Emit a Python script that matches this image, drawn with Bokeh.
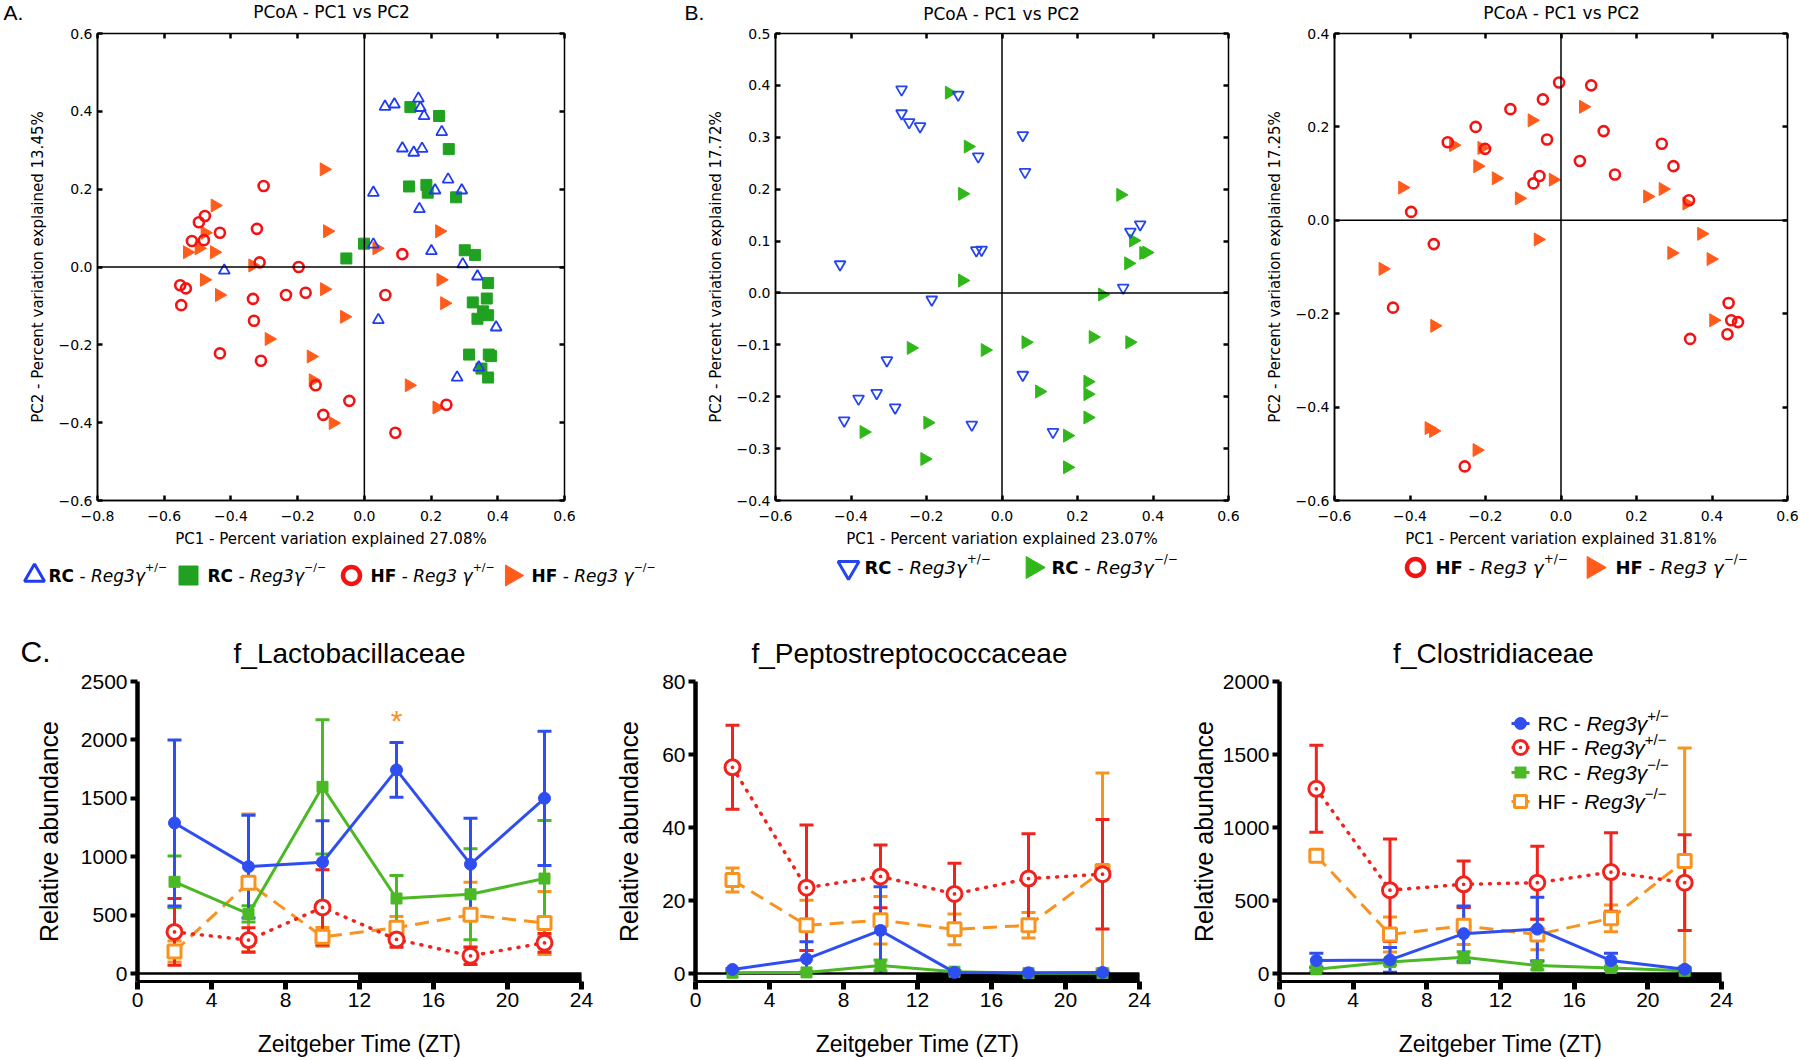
import math
from bokeh.plotting import figure
from bokeh.models import (Range1d, FixedTicker, CustomJSTickFormatter, LinearAxis, Span,
                          ColumnDataSource, Whisker, TeeHead)
from bokeh.layouts import row, column
from bokeh.embed import file_html
from bokeh.resources import INLINE
from bokeh.core.properties import value

# ------------------------------------------------------------------ data: panel A
A_rc_het_x = [0.062, 0.090, 0.162, 0.168, 0.179, 0.232, 0.114, 0.148, 0.173, 0.251, 0.292, 0.212, 0.027,
              0.165, 0.027, 0.201, 0.295, 0.339, 0.395, 0.042, 0.343, 0.278, -0.420]
A_rc_het_y = [0.412, 0.418, 0.433, 0.409, 0.388, 0.347, 0.305, 0.294, 0.304, 0.225, 0.197, 0.197, 0.191,
              0.149, 0.058, 0.041, 0.007, -0.024, -0.155, -0.136, -0.258, -0.284, -0.009]
A_rc_ko_x = [0.138, 0.224, 0.253, 0.134, 0.186, 0.190, 0.275, -0.001, -0.054, 0.301, 0.332, 0.371, 0.367,
             0.325, 0.356, 0.371, 0.339, 0.314, 0.373, 0.380, 0.371, 0.351]
A_rc_ko_y = [0.411, 0.388, 0.303, 0.207, 0.211, 0.191, 0.179, 0.060, 0.022, 0.043, 0.031, -0.041, -0.081,
             -0.091, -0.114, -0.124, -0.133, -0.225, -0.225, -0.229, -0.284, -0.261]
A_hf_het_x = [-0.302, -0.478, -0.496, -0.433, -0.517, -0.481, -0.322, -0.314, -0.197, 0.114, -0.552, -0.535,
              -0.549, -0.334, -0.235, -0.176, 0.063, -0.331, -0.433, -0.310, -0.146, -0.123, -0.045, 0.093, 0.246]
A_hf_het_y = [0.208, 0.131, 0.115, 0.088, 0.067, 0.069, 0.098, 0.012, 0.000, 0.033, -0.047, -0.055,
              -0.098, -0.082, -0.072, -0.066, -0.072, -0.138, -0.222, -0.241, -0.304, -0.380, -0.344, -0.426, -0.354]
A_hf_ko_x = [-0.121, -0.448, -0.478, -0.531, -0.496, -0.450, -0.111, -0.335, 0.037, 0.225, -0.480, -0.435,
             -0.120, -0.060, -0.286, -0.160, -0.154, 0.134, -0.094, 0.217, 0.229, 0.240]
A_hf_ko_y = [0.251, 0.158, 0.088, 0.038, 0.048, 0.038, 0.092, 0.004, 0.048, 0.092, -0.033, -0.072,
             -0.057, -0.128, -0.185, -0.230, -0.291, -0.304, -0.401, -0.361, -0.033, -0.093]
A_xticks = [-0.8, -0.6, -0.4, -0.2, 0.0, 0.2, 0.4, 0.6]
A_yticks = [-0.6, -0.4, -0.2, 0.0, 0.2, 0.4, 0.6]

# ------------------------------------------------------------------ data: panel B (RC)
B1_rc_het_x = [-0.266, -0.116, -0.266, -0.246, -0.217, 0.055, -0.063, 0.061, -0.429, -0.068, -0.054, -0.186,
               0.366, 0.340, 0.321, -0.305, -0.332, -0.380, -0.283, -0.418, -0.080, 0.055, 0.135]
B1_rc_het_y = [0.392, 0.382, 0.346, 0.329, 0.321, 0.304, 0.263, 0.233, 0.055, 0.082, 0.083, -0.013,
               0.132, 0.118, 0.010, -0.130, -0.193, -0.204, -0.221, -0.246, -0.254, -0.158, -0.268]
B1_rc_ko_x = [-0.140, -0.090, -0.105, -0.105, 0.314, 0.348, 0.383, 0.375, 0.335, 0.266, 0.241, 0.338,
              0.063, -0.241, -0.045, 0.227, 0.227, 0.227, 0.099, 0.173, 0.173, -0.197, -0.205, -0.366]
B1_rc_ko_y = [0.386, 0.282, 0.191, 0.024, 0.189, 0.101, 0.078, 0.077, 0.057, -0.003, -0.085, -0.095,
              -0.095, -0.106, -0.110, -0.171, -0.195, -0.240, -0.190, -0.275, -0.336, -0.250, -0.320, -0.268]
B1_xticks = [-0.6, -0.4, -0.2, 0.0, 0.2, 0.4, 0.6]
B1_yticks = [-0.4, -0.3, -0.2, -0.1, 0.0, 0.1, 0.2, 0.3, 0.4, 0.5]

# ------------------------------------------------------------------ data: panel B (HF)
B2_hf_het_x = [-0.005, 0.080, -0.048, -0.134, -0.226, -0.300, -0.201, -0.037, 0.113, 0.050, -0.057, -0.073,
               0.143, 0.267, 0.298, 0.339, -0.397, -0.337, -0.445, 0.444, 0.451, 0.469, 0.441, 0.342, -0.255]
B2_hf_het_y = [0.295, 0.289, 0.259, 0.238, 0.200, 0.167, 0.153, 0.173, 0.191, 0.127, 0.095, 0.079,
               0.098, 0.164, 0.116, 0.043, 0.018, -0.051, -0.187, -0.177, -0.214, -0.218, -0.244, -0.254, -0.527]
B2_hf_ko_x = [0.059, -0.077, -0.285, -0.210, -0.221, -0.172, -0.111, -0.021, -0.420, 0.229, 0.270, 0.333,
              0.372, 0.293, 0.397, -0.061, -0.472, 0.404, -0.335, -0.350, -0.338, -0.223]
B2_hf_ko_y = [0.243, 0.214, 0.161, 0.155, 0.116, 0.090, 0.047, 0.087, 0.070, 0.051, 0.067, 0.036,
              -0.029, -0.070, -0.083, -0.041, -0.104, -0.214, -0.226, -0.445, -0.451, -0.492]
B2_xticks = [-0.6, -0.4, -0.2, 0.0, 0.2, 0.4, 0.6]
B2_yticks = [-0.6, -0.4, -0.2, 0.0, 0.2, 0.4]

# ------------------------------------------------------------------ data: panel C
zt = [2, 6, 10, 14, 18, 22]
zt_ticks = [0, 4, 8, 12, 16, 20, 24]
light_start = [0, 12]
light_end = [12, 24]
light_fill = ["white", "black"]

lac_rc_het = [1289, 915, 953, 1743, 936, 1500]
lac_rc_het_sem = [711, 440, 355, 235, 393, 575]
lac_hf_het = [356, 286, 566, 292, 151, 263]
lac_hf_het_sem = [286, 105, 322, 68, 75, 80]
lac_rc_ko = [785, 510, 1598, 642, 678, 813]
lac_rc_ko_sem = [221, 70, 575, 197, 390, 498]
lac_hf_ko = [188, 776, 314, 392, 502, 432]
lac_hf_ko_sem = [90, 589, 80, 96, 280, 270]
lac_yticks = [0, 500, 1000, 1500, 2000, 2500]
lac_star_zt = [14]

pep_rc_het = [1.1, 4.0, 11.8, 0.3, 0.2, 0.3]
pep_rc_het_sem = [0.3, 4.7, 12.0, 0.2, 0.1, 0.2]
pep_hf_het = [56.5, 23.5, 26.6, 21.8, 26.0, 27.2]
pep_hf_het_sem = [11.5, 17.2, 8.6, 8.4, 12.3, 15.0]
pep_rc_ko = [0.2, 0.3, 2.2, 0.5, 0.1, 0.1]
pep_rc_ko_sem = [0.1, 0.2, 1.5, 0.3, 0.1, 0.1]
pep_hf_ko = [25.6, 13.2, 14.6, 12.1, 13.2, 28.1]
pep_hf_ko_sem = [3.3, 6.9, 6.5, 4.2, 3.5, 26.8]
pep_yticks = [0, 20, 40, 60, 80]

clo_rc_het = [89, 93, 273, 304, 89, 29]
clo_rc_het_sem = [49, 85, 189, 218, 49, 10]
clo_hf_het = [1265, 571, 611, 622, 695, 622]
clo_hf_het_sem = [298, 351, 159, 250, 269, 328]
clo_rc_ko = [29, 78, 111, 55, 38, 18]
clo_rc_ko_sem = [15, 20, 38, 30, 12, 8]
clo_hf_ko = [807, 267, 327, 267, 378, 771]
clo_hf_ko_sem = [30, 120, 129, 105, 92, 773]
clo_yticks = [0, 500, 1000, 1500, 2000]

# ------------------------------------------------------------------ styles
DVF = "DejaVu Sans"
ARF = "Liberation Sans"
A_BLUE, A_GREEN, A_RED, A_ORANGE = "#1f3cf2", "#21a121", "#f21414", "#ff5c1c"
B_BLUE, B_GREEN = "#2545ee", "#30b81a"
C_BLUE, C_RED, C_GREEN, C_ORANGE = "#2f4ef0", "#f0231d", "#4bb925", "#f7931e"

DV = {'R': .695, 'C': .698, 'H': .752, 'F': .575, ' ': .318, '-': .361, 'e': .615, 'g': .635,
      '3': .636, 'γ': .592, '+': .838, '/': .337, '−': .838}
DVB = {'R': .770, 'C': .734, 'H': .837, 'F': .683, ' ': .348, '-': .415}
AR = {'R': .722, 'C': .722, 'H': .722, 'F': .611, ' ': .278, '-': .333, 'e': .556, 'g': .556,
      '3': .556, 'γ': .5, '+': .584, '/': .278, '−': .584}


def tw(s, size, table):
    return sum(table.get(c, .6) for c in s) * size


def rich(p, x, y, parts, font, x_off=0, y_off=0):
    """Place text pieces one after another; y is the vertical middle of the text."""
    dx = 0.0
    for text, style, size, rise, table in parts:
        stripped = text.lstrip()
        lead = tw(text[:len(text) - len(stripped)], size, table)
        p.text(x=[x], y=[y], text=[stripped.rstrip()], x_offset=x_off + dx + lead, y_offset=y_off - rise,
               text_font=value(font), text_font_size=f"{size}px", text_font_style=style,
               text_color="black", text_baseline="middle", text_align="left")
        dx += tw(text, size, table)


def band_fig(width, height):
    p = figure(width=width, height=height, x_range=Range1d(0, width), y_range=Range1d(0, height),
               output_backend="svg", toolbar_location=None, x_axis_type=None, y_axis_type=None,
               min_border=0, title=None)
    p.grid.visible = False
    p.outline_line_color = None
    return p


def band_text(p, x, y, text, font, size, align="left", style="normal", color="black"):
    p.text(x=[x], y=[y], text=[text], text_font=value(font), text_font_size=f"{size}px",
           text_font_style=style, text_color=color, text_align=align, text_baseline="middle")


FMT_JS = 'const v = Math.abs(tick) < 1e-9 ? 0 : tick; return v.toFixed(1).replace("-", "\\u2212");'


def pcoa_fig(width, height, bl, br, bt, bb, xr, yr, xticks, yticks, xlabel, ylabel):
    p = figure(width=width, height=height, x_range=Range1d(*xr), y_range=Range1d(*yr),
               output_backend="svg", toolbar_location=None, title=None,
               min_border_left=bl, min_border_right=br, min_border_top=bt, min_border_bottom=bb)
    p.grid.visible = False
    p.outline_line_color = "black"
    p.outline_line_width = 1.5
    p.xaxis.ticker = FixedTicker(ticks=xticks)
    p.yaxis.ticker = FixedTicker(ticks=yticks)
    p.xaxis.axis_label = xlabel
    p.yaxis.axis_label = ylabel
    for ax in list(p.xaxis) + list(p.yaxis):
        ax.formatter = CustomJSTickFormatter(code=FMT_JS)
        ax.major_tick_in = 5
        ax.major_tick_out = 0
        ax.major_tick_line_width = 2.5
        ax.minor_tick_line_color = None
        ax.axis_line_width = 1.5
        ax.major_label_text_font = DVF
        ax.major_label_text_font_size = "14px"
        ax.major_label_text_color = "black"
        ax.axis_label_text_font = DVF
        ax.axis_label_text_font_size = "15px"
        ax.axis_label_text_font_style = "normal"
        ax.axis_label_text_color = "black"
    p.xaxis.major_label_standoff = 10
    p.xaxis.axis_label_standoff = 6
    p.yaxis.major_label_standoff = 5
    p.yaxis.axis_label_standoff = 9
    for side, ticks in (("above", xticks), ("right", yticks)):
        ax = LinearAxis(ticker=FixedTicker(ticks=ticks), major_label_text_font_size="0px",
                        major_label_text_color=None, major_label_standoff=0, major_tick_in=5,
                        major_tick_out=0, major_tick_line_width=2.5, minor_tick_line_color=None,
                        axis_line_color=None)
        p.add_layout(ax, side)
    p.add_layout(Span(location=0, dimension="height", line_color="black", line_width=1.5))
    p.add_layout(Span(location=0, dimension="width", line_color="black", line_width=1.5))
    return p


def pcoa_label_parts(group, sup, size, gap=False):
    g = "Reg3 γ" if gap else "Reg3γ"
    return [(group, "bold", size, 0, DVB), (" - ", "normal", size, 0, DV),
            (g, "italic", size, 0, DV), (sup, "normal", round(size * 0.65), size * 0.45, DV)]


# ------------------------------------------------------------------ top band: letters + titles
TOP_H = 24
topband = band_fig(1800, TOP_H)
band_text(topband, 3, TOP_H - 12, "A.", ARF, 21)
band_text(topband, 684, TOP_H - 12, "B.", ARF, 21)
band_text(topband, 331, TOP_H - 11, "PCoA - PC1 vs PC2", DVF, 17, align="center")
band_text(topband, 1001, TOP_H - 13, "PCoA - PC1 vs PC2", DVF, 17, align="center")
band_text(topband, 1561, TOP_H - 12, "PCoA - PC1 vs PC2", DVF, 17, align="center")

# ------------------------------------------------------------------ top row (frames aligned by the row)
ROW1_H, ROW1_BT, ROW1_BB = 526, 9, 50

figA = pcoa_fig(650, ROW1_H, 97, 86, ROW1_BT, ROW1_BB, (-0.8, 0.6), (-0.6, 0.6), A_xticks, A_yticks,
                "PC1 - Percent variation explained 27.08%", "PC2 - Percent variation explained 13.45%")
figA.scatter(A_rc_ko_x, A_rc_ko_y, marker="square", size=11, fill_color=A_GREEN, line_color=A_GREEN)
figA.scatter(A_hf_ko_x, A_hf_ko_y, marker="triangle", angle=-math.pi / 2, size=13,
             fill_color=A_ORANGE, line_color=A_ORANGE)
figA.scatter(A_hf_het_x, A_hf_het_y, marker="circle", size=10, fill_color=None, line_color=A_RED, line_width=2.6)
figA.scatter(A_rc_het_x, A_rc_het_y, marker="triangle", size=11, fill_color=None, line_color=A_BLUE,
             line_width=1.8)

figB1 = pcoa_fig(612, ROW1_H, 125, 34, ROW1_BT, ROW1_BB, (-0.6, 0.6), (-0.4, 0.5), B1_xticks, B1_yticks,
                 "PC1 - Percent variation explained 23.07%", "PC2 - Percent variation explained 17.72%")
figB1.scatter(B1_rc_ko_x, B1_rc_ko_y, marker="triangle", angle=-math.pi / 2, size=13,
              fill_color=B_GREEN, line_color=B_GREEN)
figB1.scatter(B1_rc_het_x, B1_rc_het_y, marker="inverted_triangle", size=11, fill_color=None,
              line_color=B_BLUE, line_width=1.8)

figB2 = pcoa_fig(538, ROW1_H, 72, 13, ROW1_BT, ROW1_BB, (-0.6, 0.6), (-0.6, 0.4), B2_xticks, B2_yticks,
                 "PC1 - Percent variation explained 31.81%", "PC2 - Percent variation explained 17.25%")
figB2.scatter(B2_hf_ko_x, B2_hf_ko_y, marker="triangle", angle=-math.pi / 2, size=13,
              fill_color=A_ORANGE, line_color=A_ORANGE)
figB2.scatter(B2_hf_het_x, B2_hf_het_y, marker="circle", size=10, fill_color=None, line_color=A_RED,
              line_width=2.6)

# ------------------------------------------------------------------ legend band for A and B
LEG_H = 50
legband = band_fig(1800, LEG_H)
LA_Y, LB_Y = LEG_H - 25, LEG_H - 17
legband.scatter([34], [LA_Y], marker="triangle", size=20, fill_color=None, line_color=A_BLUE, line_width=3)
legband.scatter([188], [LA_Y], marker="square", size=19, fill_color=A_GREEN, line_color=A_GREEN)
legband.scatter([351], [LA_Y], marker="circle", size=17, fill_color=None, line_color=A_RED, line_width=4.5)
legband.scatter([511], [LA_Y], marker="triangle", angle=-math.pi / 2, size=21, fill_color=A_ORANGE,
                line_color=A_ORANGE)
rich(legband, 48, LA_Y, pcoa_label_parts("RC", "+/−", 17), DVF)
rich(legband, 207, LA_Y, pcoa_label_parts("RC", "−/−", 17), DVF)
rich(legband, 370, LA_Y, pcoa_label_parts("HF", "+/−", 17, gap=True), DVF)
rich(legband, 531, LA_Y, pcoa_label_parts("HF", "−/−", 17, gap=True), DVF)

legband.scatter([848], [LB_Y], marker="inverted_triangle", size=21, fill_color=None, line_color=B_BLUE,
                line_width=3)
legband.scatter([1032], [LB_Y], marker="triangle", angle=-math.pi / 2, size=22, fill_color=B_GREEN,
                line_color=B_GREEN)
rich(legband, 864, LB_Y, pcoa_label_parts("RC", "+/−", 18), DVF)
rich(legband, 1051, LB_Y, pcoa_label_parts("RC", "−/−", 18), DVF)

legband.scatter([1415], [LB_Y], marker="circle", size=17, fill_color=None, line_color=A_RED, line_width=4.5)
legband.scatter([1593], [LB_Y], marker="triangle", angle=-math.pi / 2, size=22, fill_color=A_ORANGE,
                line_color=A_ORANGE)
rich(legband, 1435, LB_Y, pcoa_label_parts("HF", "+/−", 18, gap=True), DVF)
rich(legband, 1615, LB_Y, pcoa_label_parts("HF", "−/−", 18, gap=True), DVF)

# ------------------------------------------------------------------ band above panel C
CB_H = 69
cband = band_fig(1800, CB_H)
band_text(cband, 20, CB_H - 51, "C.", ARF, 30)
band_text(cband, 349, CB_H - 53, "f_Lactobacillaceae", ARF, 28, align="center")
band_text(cband, 909, CB_H - 53, "f_Peptostreptococcaceae", ARF, 28, align="center")
band_text(cband, 1493, CB_H - 53, "f_Clostridiaceae", ARF, 28, align="center")

# ------------------------------------------------------------------ Panel C
C_H, C_BT, BAR_PX, C_FRAME_H = 391, 12, 8, 300


def abund_fig(width, bl, br, ymax, yticks, ylab_standoff):
    ymin = -ymax * BAR_PX / (C_FRAME_H - BAR_PX)
    p = figure(width=width, height=C_H, x_range=Range1d(0, 24), y_range=Range1d(ymin, ymax),
               output_backend="svg", toolbar_location=None, title=None,
               min_border_left=bl, min_border_right=br, min_border_top=C_BT,
               min_border_bottom=C_H - C_BT - C_FRAME_H)
    p.grid.visible = False
    p.outline_line_color = None
    p.xaxis.ticker = FixedTicker(ticks=zt_ticks)
    p.yaxis.ticker = FixedTicker(ticks=yticks)
    p.xaxis.axis_label = "Zeitgeber Time (ZT)"
    p.yaxis.axis_label = "Relative abundance"
    for ax in list(p.xaxis) + list(p.yaxis):
        ax.minor_tick_line_color = None
        ax.major_tick_in = 0
        ax.axis_line_color = "black"
        ax.major_tick_line_color = "black"
        ax.major_label_text_font = ARF
        ax.major_label_text_font_size = "21px"
        ax.major_label_text_color = "black"
        ax.axis_label_text_font = ARF
        ax.axis_label_text_font_style = "normal"
        ax.axis_label_text_color = "black"
    p.xaxis.major_tick_out = 8
    p.xaxis.major_tick_line_width = 5
    p.xaxis.axis_line_width = 3
    p.xaxis.major_label_standoff = 3
    p.xaxis.axis_label_text_font_size = "23px"
    p.xaxis.axis_label_standoff = 21
    p.yaxis.major_tick_out = 7
    p.yaxis.major_tick_line_width = 4
    p.yaxis.axis_line_width = 4.5
    p.yaxis.major_label_standoff = 3
    p.yaxis.axis_label_text_font_size = "25px"
    p.yaxis.axis_label_standoff = ylab_standoff
    p.quad(left=light_start, right=light_end, bottom=ymin, top=0, fill_color=light_fill,
           line_color="black", line_width=2.5)
    return p


def add_series(p, mean, sem, color, marker, dash, fill, size, lw_marker):
    src = ColumnDataSource(dict(x=zt, y=mean, upper=[m + s for m, s in zip(mean, sem)],
                                lower=[m - s for m, s in zip(mean, sem)]))
    p.add_layout(Whisker(base="x", upper="upper", lower="lower", source=src, line_color=color,
                         line_width=3,
                         upper_head=TeeHead(size=14, line_color=color, line_width=3),
                         lower_head=TeeHead(size=14, line_color=color, line_width=3)))
    if dash == "dotted":
        p.line("x", "y", source=src, line_color=color, line_width=3.5, line_dash="1 8", line_cap="round")
    else:
        p.line("x", "y", source=src, line_color=color, line_width=3, line_dash=dash)
    p.scatter("x", "y", source=src, marker=marker, size=size, fill_color=fill, line_color=color,
              line_width=lw_marker)


def add_all(p, rc_het, rc_het_sem, hf_het, hf_het_sem, rc_ko, rc_ko_sem, hf_ko, hf_ko_sem):
    add_series(p, hf_ko, hf_ko_sem, C_ORANGE, "square", "14 8", "white", 13, 3)
    add_series(p, rc_ko, rc_ko_sem, C_GREEN, "square", "solid", C_GREEN, 11, 1)
    add_series(p, hf_het, hf_het_sem, C_RED, "circle_dot", "dotted", "white", 15, 3)
    add_series(p, rc_het, rc_het_sem, C_BLUE, "circle", "solid", C_BLUE, 12, 1)


figC1 = abund_fig(610, 137, 29, 2500, lac_yticks, 15)
add_all(figC1, lac_rc_het, lac_rc_het_sem, lac_hf_het, lac_hf_het_sem,
        lac_rc_ko, lac_rc_ko_sem, lac_hf_ko, lac_hf_ko_sem)
star_y = [lac_rc_het[zt.index(t)] + lac_rc_het_sem[zt.index(t)] for t in lac_star_zt]
figC1.text(x=lac_star_zt, y=star_y, text=["*"], text_color=C_ORANGE, text_font=value(ARF),
           text_font_size="30px", text_align="center", text_baseline="middle", y_offset=-22)

figC2 = abund_fig(570, 85, 41, 80, pep_yticks, 16)
add_all(figC2, pep_rc_het, pep_rc_het_sem, pep_hf_het, pep_hf_het_sem,
        pep_rc_ko, pep_rc_ko_sem, pep_hf_ko, pep_hf_ko_sem)

figC3 = abund_fig(620, 99, 79, 2000, clo_yticks, 2)
add_all(figC3, clo_rc_het, clo_rc_het_sem, clo_hf_het, clo_hf_het_sem,
        clo_rc_ko, clo_rc_ko_sem, clo_hf_ko, clo_hf_ko_sem)

# legend inside the Clostridiaceae panel (pixel layout inside the frame -> data units)
C3_FRAME_W = 620 - 99 - 79
c3_ymin = -2000 * BAR_PX / (C_FRAME_H - BAR_PX)


def c3_x(px):
    return px / C3_FRAME_W * 24


def c3_y(py_from_top):
    return 2000 - py_from_top / C_FRAME_H * (2000 - c3_ymin)


leg_rows = [42, 66, 91, 120]
leg_x = c3_x(241)
leg_dx = c3_x(9)
leg_specs = [
    ("RC - ", "+/−", C_BLUE, "circle", C_BLUE, 12, 1),
    ("HF - ", "+/−", C_RED, "circle_dot", "white", 14, 3),
    ("RC - ", "−/−", C_GREEN, "square", C_GREEN, 11, 1),
    ("HF - ", "−/−", C_ORANGE, "square", "white", 12, 3),
]
for r, (grp, sup, col, mk, fill, sz, lw) in zip(leg_rows, leg_specs):
    yy = c3_y(r)
    figC3.segment(x0=[leg_x - leg_dx], x1=[leg_x + leg_dx], y0=[yy], y1=[yy], line_color=col, line_width=3)
    figC3.scatter([leg_x], [yy], marker=mk, size=sz, fill_color=fill, line_color=col, line_width=lw)
    rich(figC3, leg_x, yy, [(grp, "normal", 21, 0, AR), ("Reg3γ", "italic", 21, 0, AR),
                           (sup, "normal", 15, 8, AR)], ARF, x_off=17)

layout = column(
    topband,
    row(figA, figB1, figB2),
    legband,
    cband,
    row(figC1, figC2, figC3),
)

open("out.html", "w").write(file_html(layout, INLINE))
